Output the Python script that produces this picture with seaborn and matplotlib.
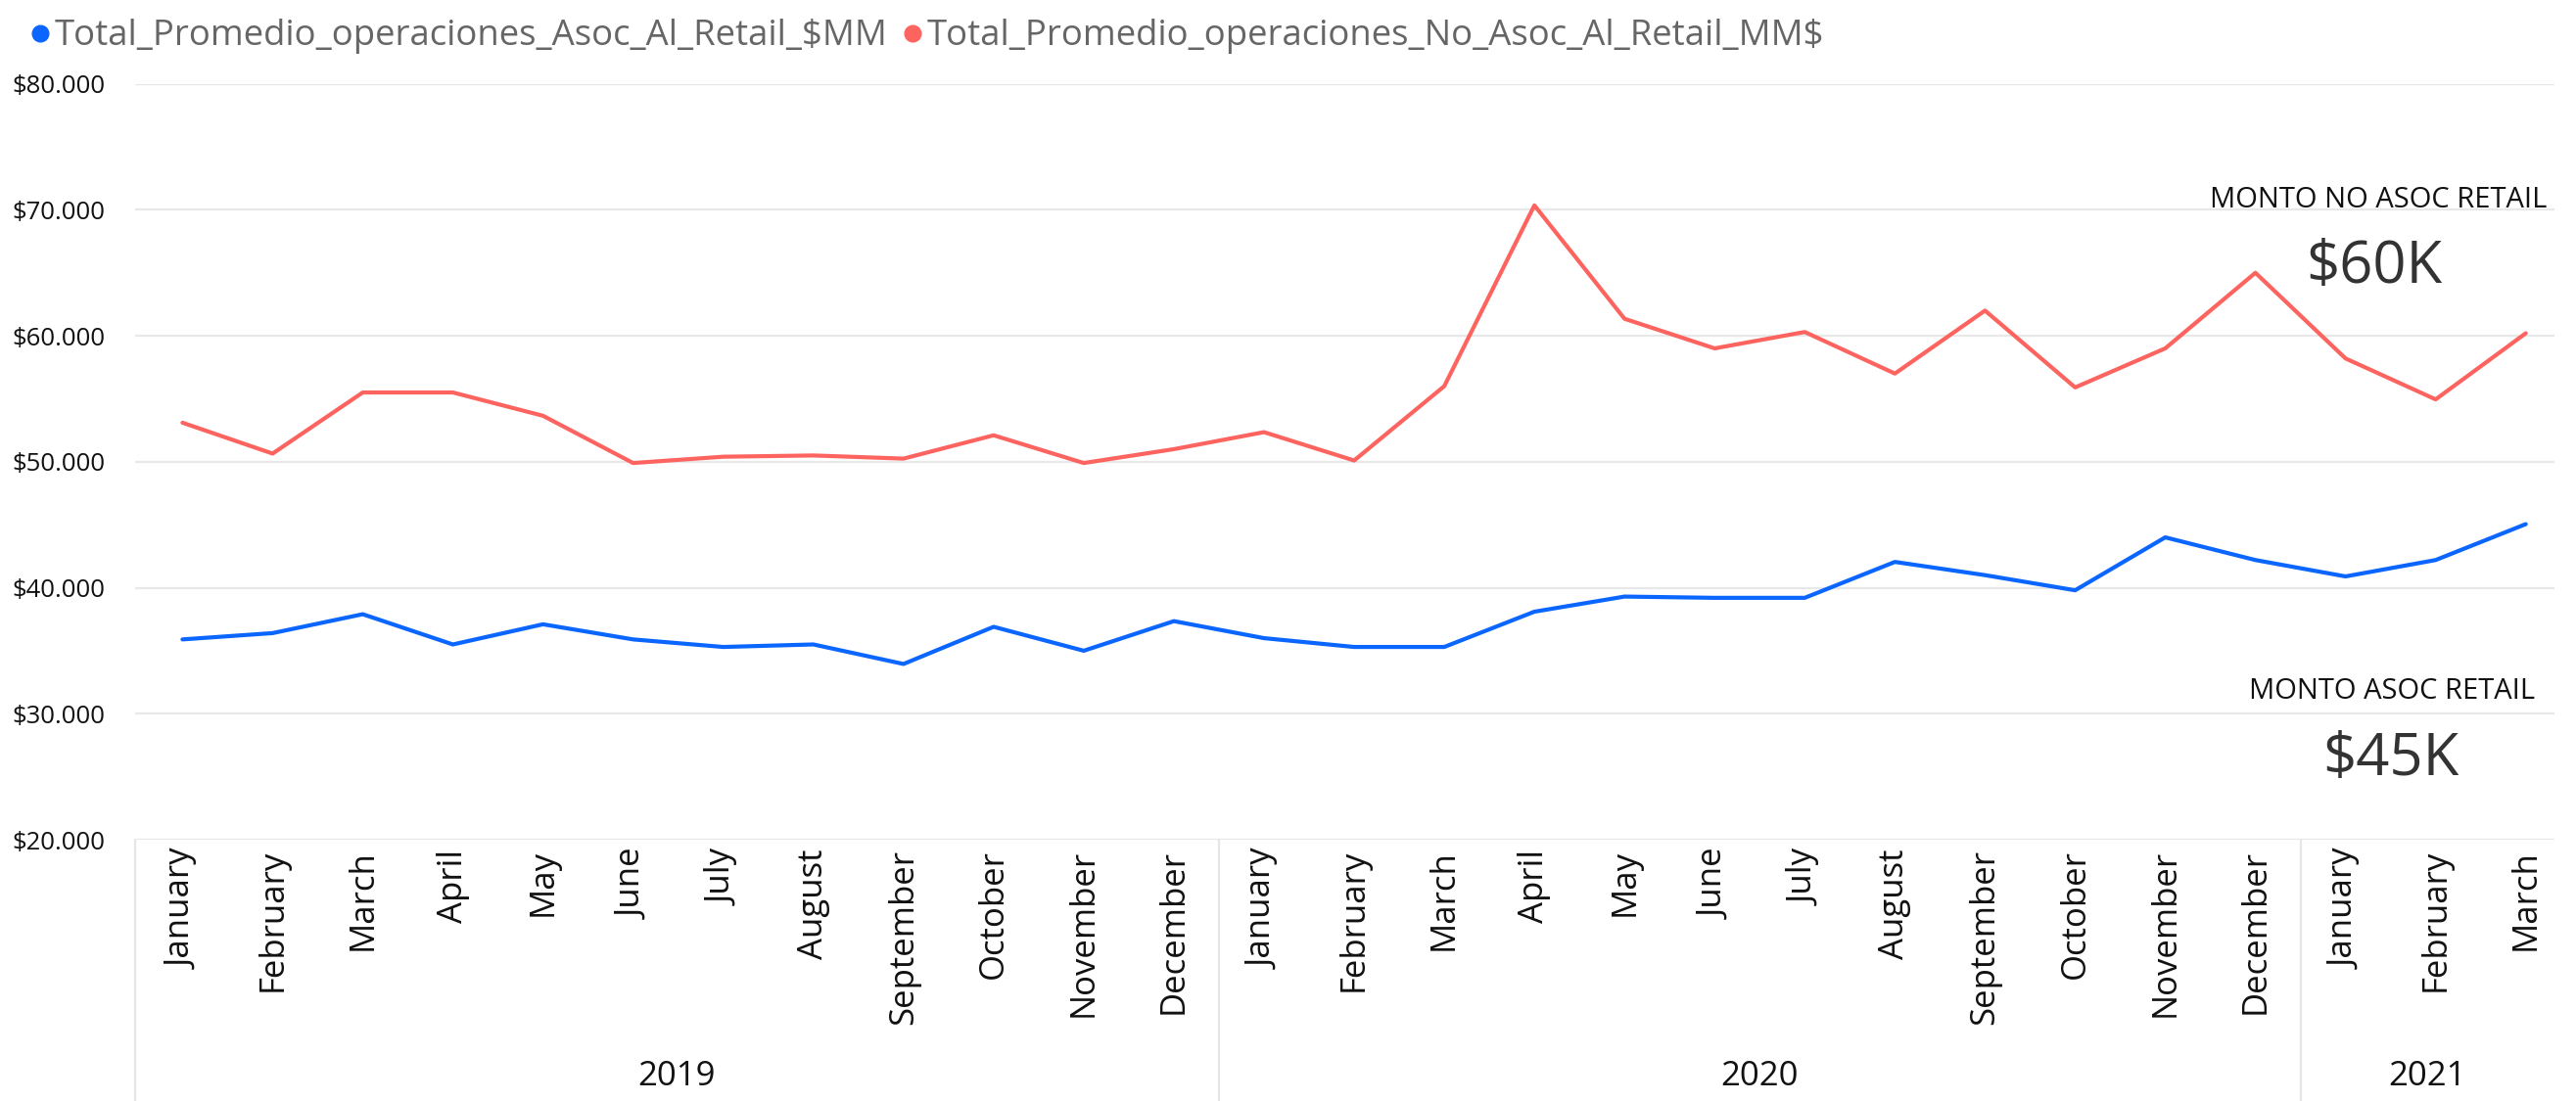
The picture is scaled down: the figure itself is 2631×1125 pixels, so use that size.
import matplotlib
matplotlib.use("Agg")
import matplotlib.pyplot as plt
import matplotlib.transforms as mtransforms
from matplotlib import font_manager
from matplotlib.lines import Line2D
from matplotlib.ticker import FuncFormatter
import seaborn as sns
import pandas as pd

# datos
meses = ['January', 'February', 'March', 'April', 'May', 'June', 'July',
         'August', 'September', 'October', 'November', 'December']
periodos = [(2019, m) for m in meses] + [(2020, m) for m in meses] + \
           [(2021, m) for m in meses[:3]]
anios = [2019, 2020, 2021]

asoc_retail = [35900, 36400, 37900, 35500, 37100, 35900, 35300, 35500, 33950,
               36900, 35000, 37350, 36000, 35300, 35300, 38100, 39300, 39200,
               39200, 42050, 41000, 39800, 44000, 42200, 40900, 42200, 45050]
no_asoc_retail = [53100, 50650, 55500, 55500, 53650, 49900, 50400, 50500,
                  50250, 52100, 49900, 51000, 52350, 50100, 56000, 70350,
                  61350, 59000, 60300, 57000, 62000, 55900, 59000, 65000,
                  58200, 54950, 60200]

serie_asoc = 'Total_Promedio_operaciones_Asoc_Al_Retail_$MM'
serie_no_asoc = 'Total_Promedio_operaciones_No_Asoc_Al_Retail_MM$'
colores = {serie_asoc: '#0B66FF', serie_no_asoc: '#FD6460'}

# fuentes
sns.set_theme(style='white')
disponibles = {f.name for f in font_manager.fontManager.ttflist}
base_font = 'Open Sans' if 'Open Sans' in disponibles else 'DejaVu Sans'
narrow_font = base_font
for cand in ['Liberation Sans Narrow', 'DejaVu Sans Condensed']:
    if cand in disponibles:
        narrow_font = cand
        break
plt.rcParams['font.family'] = [base_font, 'DejaVu Sans']

df = pd.DataFrame({
    'idx': list(range(len(periodos))) * 2,
    'valor': asoc_retail + no_asoc_retail,
    'serie': [serie_asoc] * len(periodos) + [serie_no_asoc] * len(periodos),
})

fig = plt.figure(figsize=(26.31, 11.25), dpi=100)
ax = fig.add_axes([0.0523, 0.2373, 0.9394, 0.6866])

sns.lineplot(data=df, x='idx', y='valor', hue='serie', palette=colores,
             linewidth=3.0, ax=ax, legend=False)

ax.set_xlim(-0.53, 26.32)
ax.set_ylim(20000, 80000)
ax.set_yticks(range(20000, 80001, 10000))
ax.yaxis.set_major_formatter(
    FuncFormatter(lambda v, p: '$' + f'{v:,.0f}'.replace(',', '.')))
ax.set_xticks(range(len(periodos)))
ax.set_xticklabels([m for _, m in periodos], rotation=90, va='top',
                   ha='center', fontsize=25, color='#111111')
ax.tick_params(axis='y', length=0, pad=22, labelsize=18.5, labelcolor='#111111')
ax.tick_params(axis='x', length=0, pad=7)
ax.set_xlabel('')
ax.set_ylabel('')
for s in ax.spines.values():
    s.set_visible(False)
ax.grid(axis='y', color='#E8E8E8', linewidth=1.6)
ax.grid(axis='x', visible=False)

# separadores de anio y etiquetas
trans = mtransforms.blended_transform_factory(ax.transData, ax.transAxes)
fondo = -0.2373 / 0.6866
cortes = [-0.53, 11.5, 23.5]
for xc in cortes:
    ax.add_line(Line2D([xc, xc], [0, fondo], transform=trans,
                       color='#E6E6E6', linewidth=1.6, clip_on=False))
limites = cortes + [26.32]
for i, anio in enumerate(anios):
    centro = (limites[i] + limites[i + 1]) / 2
    ax.text(centro, -0.313, str(anio), transform=trans, ha='center',
            va='center', fontsize=25, color='#111111', family=narrow_font)

# leyenda
handles = [Line2D([], [], marker='o', linestyle='', markersize=12,
                  color=colores[s]) for s in [serie_asoc, serie_no_asoc]]
fig.legend(handles, [serie_asoc, serie_no_asoc], loc='upper left',
           bbox_to_anchor=(-0.004, 1.012), ncol=2, frameon=False,
           handletextpad=-0.1, columnspacing=0.2, handlelength=1.0,
           prop={'family': narrow_font, 'size': 26.3}, labelcolor='#666666')

# tarjetas de monto
fig.text(0.9886, 0.818, 'MONTO NO ASOC RETAIL', ha='right', va='center',
         fontsize=21, color='#111111')
fig.text(0.9216, 0.757, '$60K', ha='center', va='center', fontsize=43,
         color='#333333', fontweight='medium')
fig.text(0.984, 0.3716, 'MONTO ASOC RETAIL', ha='right', va='center',
         fontsize=21, color='#111111')
fig.text(0.928, 0.3104, '$45K', ha='center', va='center', fontsize=43,
         color='#333333', fontweight='medium')

fig.savefig('out.png', dpi=100, facecolor='white')
